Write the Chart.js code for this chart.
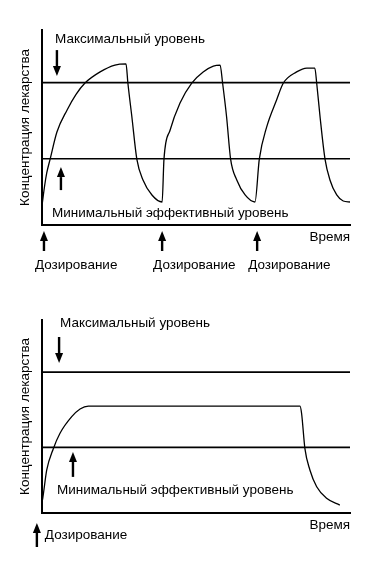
<!DOCTYPE html>
<html><head><meta charset="utf-8">
<script src="https://cdn.jsdelivr.net/npm/chart.js@4/dist/chart.umd.min.js"></script>
<style>
html,body{margin:0;padding:0;background:#fff;width:367px;height:575px;overflow:hidden}
.box{position:absolute;left:0;width:367px}
</style></head><body>
<div class="box" style="top:0;height:290px"><canvas id="c1" width="367" height="290"></canvas></div>
<div class="box" style="top:290px;height:285px"><canvas id="c2" width="367" height="285"></canvas></div>
<script>
// ---- texts ----
const yAxisTitle = 'Концентрация лекарства';
const xAxisTitle = 'Время';
const maxLabel = 'Максимальный уровень';
const minLabel = 'Минимальный эффективный уровень';
const doseLabel = 'Дозирование';

// ---- levels ----
const maxLevel = 73;
const minEffLevel = 34;

// ---- chart 1: repeated dosing ----
const time1 = [0, 0.4, 1.0, 1.7, 2.8, 5.0, 8.3, 11.2, 14.1, 19.0, 23.8, 27.4, 28.0, 29.3, 30.9, 32.9, 35.8, 39.1, 39.7, 41.7, 44.9, 48.7, 52.4, 55.7, 57.9, 58.7, 60.0, 61.3, 63.3, 66.0, 69.2, 70.6, 73.0, 76.2, 78.4, 82.7, 86.0, 88.6, 89.2, 90.3, 91.9, 93.5, 95.7, 97.8, 100];
const conc1 = [8, 12.8, 20, 26.7, 33.8, 47.7, 59, 67, 72.8, 78.5, 82, 82.6, 72.8, 55.4, 33.8, 23.1, 15.4, 11.8, 33.8, 48.7, 62.6, 72.8, 78.5, 81.5, 82, 72.8, 55.4, 33.8, 23.1, 15.4, 11.8, 33.8, 50.3, 64.1, 72.8, 78.5, 80.5, 80.5, 72.8, 55.4, 33.8, 23.1, 15.4, 12.3, 11.8];
const doses1 = [0.8, 39.1, 69.9];

// ---- chart 2: controlled release ----
const time2 = [0.2, 0.4, 1.7, 3.8, 6.0, 9.8, 12.5, 15.2, 83.8, 84.3, 85.4, 87.0, 89.2, 92.4, 96.7];
const conc2 = [6, 7.6, 22.3, 33.2, 41.3, 49.9, 53.9, 55.4, 55.4, 51.7, 33.2, 22.3, 13.6, 7.6, 4.1];
const doses2 = [-1.5];

const INK = '#000';
const FONT = '"Liberation Sans", Arial, sans-serif';
Chart.defaults.font.family = FONT;
Chart.defaults.color = INK;

function drawArrow(ctx, x, yFrom, yTo) {
  const dir = yTo > yFrom ? 1 : -1;
  const head = 10, hw = 4;
  ctx.lineWidth = 2.4;
  ctx.beginPath(); ctx.moveTo(x, yFrom); ctx.lineTo(x, yTo - dir * head); ctx.stroke();
  ctx.beginPath();
  ctx.moveTo(x - hw, yTo - dir * head);
  ctx.lineTo(x + hw, yTo - dir * head);
  ctx.lineTo(x, yTo);
  ctx.closePath(); ctx.fill();
}

const notes = {
  id: 'notes',
  afterDatasetsDraw(chart, args, o) {
    const {ctx, chartArea, scales: {x, y}} = chart;
    ctx.save();
    ctx.fillStyle = INK; ctx.strokeStyle = INK;
    ctx.font = '13.5px ' + FONT;
    ctx.textBaseline = 'middle'; ctx.textAlign = 'left';
    o.texts.forEach(t => ctx.fillText(t.text, x.getPixelForValue(t.x), y.getPixelForValue(t.y)));
    o.arrows.forEach(a => drawArrow(ctx, x.getPixelForValue(a.x), y.getPixelForValue(a.from), y.getPixelForValue(a.to)));
    o.doses.forEach(d => {
      const px = x.getPixelForValue(d);
      drawArrow(ctx, px, chartArea.bottom + o.doseArrow.from, chartArea.bottom + o.doseArrow.to);
      ctx.fillText(doseLabel, px + o.doseText.dx, chartArea.bottom + o.doseText.dy);
    });
    ctx.restore();
  }
};

function pts(xs, ys) { return xs.map((v, i) => ({x: v, y: ys[i]})); }

function makeChart(id, times, concs, padBottom, noteOpts) {
  return new Chart(document.getElementById(id), {
    type: 'scatter',
    data: {
      datasets: [
        {data: pts(times, concs), showLine: true, borderColor: INK, borderWidth: 1.3, pointRadius: 0, cubicInterpolationMode: 'monotone'},
        {data: pts([0, 100], [maxLevel, maxLevel]), showLine: true, borderColor: INK, borderWidth: 1.6, pointRadius: 0},
        {data: pts([0, 100], [minEffLevel, minEffLevel]), showLine: true, borderColor: INK, borderWidth: 1.6, pointRadius: 0}
      ]
    },
    options: {
      responsive: false,
      animation: false,
      events: [],
      layout: {padding: {left: 17.3, top: 30, right: 17, bottom: padBottom}},
      plugins: {legend: {display: false}, tooltip: {enabled: false}, notes: noteOpts},
      scales: {
        x: {
          type: 'linear', min: 0, max: 100,
          grid: {display: false, drawTicks: false},
          ticks: {display: false},
          border: {display: true, color: INK, width: 2},
          title: {display: true, text: xAxisTitle, align: 'end', color: INK, font: {size: 13.5}, padding: {top: 4, bottom: 4}}
        },
        y: {
          type: 'linear', min: 0, max: 100,
          grid: {display: false, drawTicks: false},
          ticks: {display: false},
          border: {display: true, color: INK, width: 2},
          title: {display: true, text: yAxisTitle, color: INK, font: {size: 13.5}, padding: {top: 0, bottom: 8}}
        }
      }
    },
    plugins: [notes]
  });
}

makeChart('c1', time1, conc1, 40.8, {
  texts: [{text: maxLabel, x: 4.4, y: 95.4}, {text: minLabel, x: 3.4, y: 6.2}],
  arrows: [{x: 5.0, from: 89.7, to: 76.4}, {x: 6.3, from: 17.9, to: 29.7}],
  doses: doses1,
  doseArrow: {from: 26, to: 6},
  doseText: {dx: -9, dy: 40}
});

makeChart('c2', time2, conc2, 37.8, {
  texts: [{text: maxLabel, x: 6.0, y: 98.4}, {text: minLabel, x: 5.0, y: 11.9}],
  arrows: [{x: 5.7, from: 91.2, to: 77.7}, {x: 10.2, from: 18.7, to: 31.6}],
  doses: doses2,
  doseArrow: {from: 34, to: 10},
  doseText: {dx: 8, dy: 22}
});
</script>
</body></html>
